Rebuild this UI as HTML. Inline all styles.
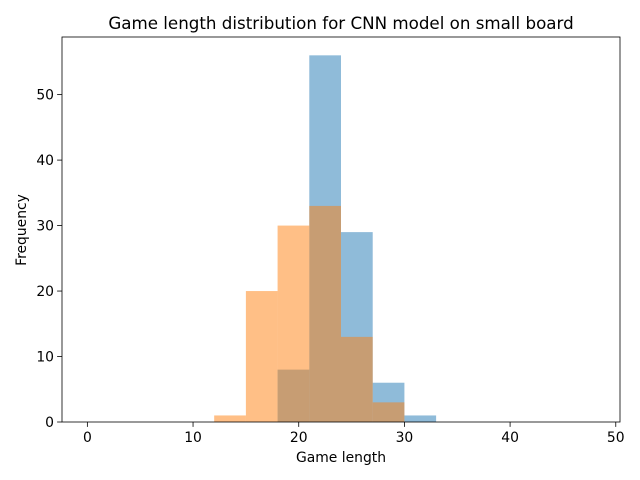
<!DOCTYPE html>
<html><head><meta charset="utf-8"><style>
body{margin:0;background:#fff;font-family:"Liberation Sans","DejaVu Sans",sans-serif;}
svg text{font-family:"DejaVu Sans","Liberation Sans",sans-serif;}
</style></head><body>
<svg id="chart" width="640" height="480" viewBox="0 0 640 480" style="position:absolute;left:0;top:0;">
<rect width="640" height="480" fill="#fff"/>
<g id="bars"></g>
<g id="axes"></g>
<text x="341" y="29" font-size="16.7" text-anchor="middle">Game length distribution for CNN model on small board</text>
<text x="341" y="462" font-size="13.9" text-anchor="middle">Game length</text>
<text x="26" y="230" font-size="13.9" text-anchor="middle" transform="rotate(-90 26 230)">Frequency</text>
</svg>
<script>
const binEdges = [0,3,6,9,12,15,18,21,24,27,30,33,36,39,42,45,48];
const seriesBlue = [0,0,0,0,0,0,8,56,29,6,1,0,0,0,0,0];
const seriesOrange = [0,0,0,0,1,20,30,33,13,3,0,0,0,0,0,0];
const xTicks = [0,10,20,30,40,50];
const yTicks = [0,10,20,30,40,50];

const L=62,R=620,T=37,B=422;
const xmin=-2.4,xmax=50.4,ymin=0,ymax=58.8;
const sx=v=>L+(v-xmin)/(xmax-xmin)*(R-L);
const sy=v=>B-(v-ymin)/(ymax-ymin)*(B-T);
const NS="http://www.w3.org/2000/svg";
const bars=document.getElementById('bars'), axes=document.getElementById('axes');
function mk(tag,attrs,parent){const e=document.createElementNS(NS,tag);for(const k in attrs)e.setAttribute(k,attrs[k]);parent.appendChild(e);return e;}

function drawSeries(vals,color,name){
  vals.forEach((v,i)=>{
    if(v<=0)return;
    const r=mk('rect',{x:sx(binEdges[i]),y:sy(v),width:sx(binEdges[i+1])-sx(binEdges[i]),height:sy(0)-sy(v),fill:color,'fill-opacity':0.5},bars);
    
    
  });
}
drawSeries(seriesBlue,'#1f77b4','blue');
drawSeries(seriesOrange,'#ff7f0e','orange');

const frame=mk('rect',{x:L,y:T,width:R-L,height:B-T,fill:'none',stroke:'#000','stroke-width':0.8},axes);



xTicks.forEach(t=>{
  const x=sx(t);
  mk('line',{x1:x,x2:x,y1:B,y2:B+4.9,stroke:'#000','stroke-width':0.8},axes);
  const tx=mk('text',{x:x,y:B+20,'font-size':13.9,'text-anchor':'middle'},axes);
  tx.textContent=t;
  
  
});
yTicks.forEach(t=>{
  const y=sy(t);
  mk('line',{x1:L,x2:L-4.9,y1:y,y2:y,stroke:'#000','stroke-width':0.8},axes);
  const tx=mk('text',{x:L-8,y:y+5,'font-size':13.9,'text-anchor':'end'},axes);
  tx.textContent=t;
  
  
});
</script>
</body></html>
